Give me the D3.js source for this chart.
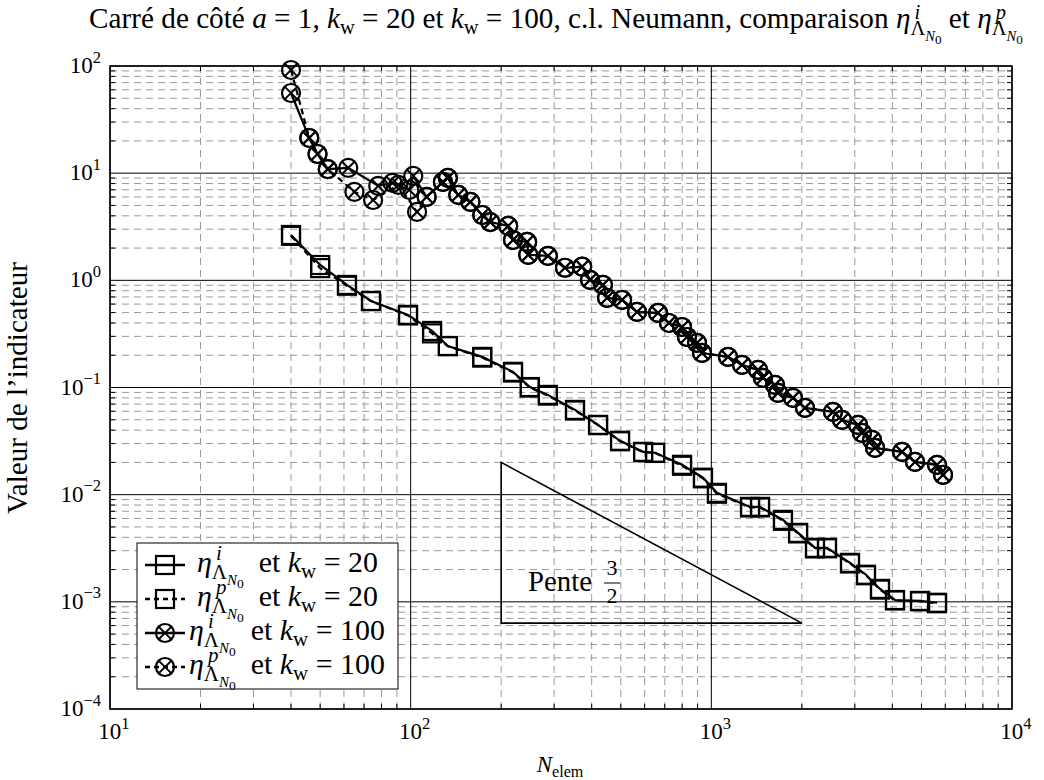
<!DOCTYPE html>
<html><head><meta charset="utf-8">
<script src="https://cdn.jsdelivr.net/npm/d3@7"></script>
<style>
body{margin:0;background:#fff}
svg{display:block}
</style>
</head><body><svg id="c" width="1044" height="780" font-family="Liberation Serif"></svg>
<script>
// ---- data ----
const nI20 = [40,50,61.4,73.8,98,117.8,133,173,219,249,286,352,420,497,593,650,799,938,1044,1345,1452,1731,1943,2212,2425,2892,3269,3639,4082,4944,5632];
const vI20 = [2.65,1.39,0.906,0.642,0.476,0.337,0.244,0.193,0.140,0.101,0.0853,0.0618,0.0448,0.0318,0.0251,0.0246,0.0190,0.0144,0.0104,0.00769,0.00769,0.00582,0.0044,0.00319,0.00319,0.00231,0.00179,0.00132,0.00104,0.00102,0.00098];
const nP20 = [40,50,61.4,73.8,98,117.8,133,173,219,249,286,352,420,497,593,650,799,938,1044,1345,1452,1731,1943,2212,2425,2892,3269,3639,4082,4944,5632];
const vP20 = [2.60,1.30,0.89,0.64,0.47,0.32,0.243,0.190,0.138,0.100,0.084,0.061,0.0445,0.0315,0.0249,0.0245,0.0186,0.0142,0.0102,0.0076,0.0076,0.0057,0.00435,0.00315,0.00316,0.00228,0.00177,0.00130,0.00103,0.00101,0.00097];
const nI100 = [40,46,49,53,62,78,87,99,102,113,128,133,144,158,173,184,211,219,244,246,286,326,372,395,436,450,505,566,665,723,799,830,896,931,1136,1265,1430,1485,1628,1666,1869,2049,2539,2720,3075,3170,3423,3503,4308,4758,5632,5897];
const vI100 = [56.0,21.3,15.1,10.9,11.2,7.60,8.10,6.97,9.42,6.0,8.28,9.02,6.26,5.39,4.07,3.50,3.22,2.38,2.28,1.73,1.69,1.31,1.34,1.01,0.906,0.685,0.657,0.507,0.496,0.400,0.367,0.296,0.261,0.210,0.193,0.1625,0.146,0.1229,0.1057,0.0891,0.080,0.0645,0.0592,0.0498,0.0448,0.0377,0.0324,0.0273,0.0251,0.0202,0.0190,0.0153];
const nP100 = [40,46,49,53,65,75,91,105,113,128,133,144,158,173,184,211,219,244,246,286,326,372,395,436,450,505,566,665,723,799,830,896,931,1136,1265,1430,1485,1628,1666,1869,2049,2539,2720,3075,3170,3423,3503,4308,4758,5632,5897];
const vP100 = [91.8,21.3,15.1,10.9,6.68,5.62,7.76,4.35,6.0,8.28,9.02,6.26,5.39,4.07,3.50,3.22,2.38,2.28,1.73,1.69,1.31,1.34,1.01,0.906,0.685,0.657,0.507,0.496,0.400,0.367,0.296,0.261,0.210,0.193,0.1625,0.146,0.1229,0.1057,0.0891,0.080,0.0645,0.0592,0.0498,0.0448,0.0377,0.0324,0.0273,0.0251,0.0202,0.0190,0.0153];
const xTickExps = [1,2,3,4];
const yTickExps = [-4,-3,-2,-1,0,1,2];
const slopeN = [200,2000];
const slopeTop = 0.02;
const slopeOrder = 1.5;

// ---- setup ----
const svg = d3.select('#c');
const L=110,R=1012,T=66,B=709;
const x = d3.scaleLog().domain([10,1e4]).range([L,R]);
const y = d3.scaleLog().domain([1e-4,1e2]).range([B,T]);

function build(txt, parts, fs){
  let cur=0, pendingDx=0;
  function add(p){
    const ts=txt.append('tspan').attr('font-size',fs*(p.s||1))
      .attr('font-style',p.it?'italic':'normal');
    const d=(p.dy||0)-cur; if(d) ts.attr('dy',d*fs/20); cur=(p.dy||0);
    if(pendingDx){ ts.attr('dx',pendingDx); pendingDx=0; }
    ts.text(p.t);
    return ts.node().getComputedTextLength();
  }
  for(const p of parts){
    if(p.stack){
      const ws=[];
      p.stack.forEach((s,k)=>{
        if(k>0) pendingDx = -ws[k-1];
        let w=0; s.forEach(q=>{w+=add(q);}); ws.push(w);
      });
      const last=ws[ws.length-1], mx=Math.max(...ws);
      if(mx>last) pendingDx=mx-last;
    } else add(p);
  }
}
function rich(g, xx, yy, parts, fs, anchor, rot, targetW){
  let t=g.append('text').attr('fill','#000').attr('font-family','Liberation Serif').attr('text-anchor',anchor||'start')
    .attr('transform',`translate(${xx},${yy})`+(rot?` rotate(${rot})`:''));
  build(t,parts,fs);
  if(targetW){
    const w=t.node().getBBox().width;
    t.selectAll('tspan').remove();
    build(t,parts,fs*targetW/w);
  }
  return t;
}
const eta = (sup,up) => [{t:'η',it:true},{stack:[[{t:'\u2009'+sup,it:true,s:0.7,dy:-(up||8)}],[{t:'Λ',s:0.7,dy:5},{t:'N',it:true,s:0.5,dy:9},{t:'0',s:0.45,dy:11}]]}];
const kw = [{t:'k',it:true},{t:'w',s:0.7,dy:4}];

// ---- grid ----
const grid=svg.append('g');
const minorX=[],minorY=[];
for(let d=1;d<4;d++) for(let m=2;m<10;m++) minorX.push(m*10**d);
for(let d=-4;d<2;d++) for(let m=2;m<10;m++) minorY.push(m*10**d);
grid.selectAll('.mx').data(minorX).join('line').attr('x1',d=>x(d)).attr('x2',d=>x(d)).attr('y1',T).attr('y2',B)
  .attr('stroke','#9a9a9a').attr('stroke-width',1).attr('stroke-dasharray','7,5');
grid.selectAll('.my').data(minorY).join('line').attr('y1',d=>y(d)).attr('y2',d=>y(d)).attr('x1',L).attr('x2',R)
  .attr('stroke','#9a9a9a').attr('stroke-width',1).attr('stroke-dasharray','7,5');
grid.selectAll('.Mx').data(xTickExps).join('line').attr('x1',d=>x(10**d)).attr('x2',d=>x(10**d)).attr('y1',T).attr('y2',B)
  .attr('stroke','#000').attr('stroke-width',1);
grid.selectAll('.My').data(yTickExps).join('line').attr('y1',d=>y(10**d)).attr('y2',d=>y(10**d)).attr('x1',L).attr('x2',R)
  .attr('stroke','#000').attr('stroke-width',1);

const tk=svg.append('g').attr('stroke','#000').attr('stroke-width',1);
minorX.forEach(d=>{tk.append('line').attr('x1',x(d)).attr('x2',x(d)).attr('y1',B).attr('y2',B-5);tk.append('line').attr('x1',x(d)).attr('x2',x(d)).attr('y1',T).attr('y2',T+5);});
minorY.forEach(d=>{tk.append('line').attr('y1',y(d)).attr('y2',y(d)).attr('x1',L).attr('x2',L+5);tk.append('line').attr('y1',y(d)).attr('y2',y(d)).attr('x1',R).attr('x2',R-5);});

// ---- series ----
const plot=svg.append('g');
const line=d3.line().x(d=>x(d[0])).y(d=>y(d[1]));
const zip=(a,b)=>a.map((v,i)=>[v,b[i]]);
const series=[
  {n:nI20,v:vI20,m:'sq',dash:null},
  {n:nP20,v:vP20,m:'sq',dash:'6,4'},
  {n:nI100,v:vI100,m:'ci',dash:null},
  {n:nP100,v:vP100,m:'ci',dash:'6,4'}
];
function marker(g,cx,cy,m){
  if(m==='sq'){
    g.append('rect').attr('x',cx-9).attr('y',cy-9).attr('width',18).attr('height',18)
      .attr('fill','none').attr('stroke','#000').attr('stroke-width',2.2);
  } else {
    g.append('circle').attr('cx',cx).attr('cy',cy).attr('r',9).attr('fill','none').attr('stroke','#000').attr('stroke-width',2.2);
    const r=6.4;
    g.append('line').attr('x1',cx-r).attr('y1',cy-r).attr('x2',cx+r).attr('y2',cy+r).attr('stroke','#000').attr('stroke-width',2);
    g.append('line').attr('x1',cx-r).attr('y1',cy+r).attr('x2',cx+r).attr('y2',cy-r).attr('stroke','#000').attr('stroke-width',2);
  }
}
series.forEach(s=>{
  const pts=zip(s.n,s.v);
  plot.append('path').attr('d',line(pts)).attr('fill','none').attr('stroke','#000').attr('stroke-width',2.2)
    .attr('stroke-dasharray',s.dash);
  const mg=plot.append('g');
  pts.forEach(p=>marker(mg,x(p[0]),y(p[1]),s.m));
});

// slope triangle
const yLow = slopeTop/10**slopeOrder;
svg.append('path').attr('d',`M${x(slopeN[0])},${y(slopeTop)}L${x(slopeN[0])},${y(yLow)}L${x(slopeN[1])},${y(yLow)}Z`)
  .attr('fill','none').attr('stroke','#000').attr('stroke-width',1.6);
rich(svg,528,591,[{t:'Pente'}],22,'start',0,64);
rich(svg,612,575,[{t:'3'}],22,'middle');
svg.append('line').attr('x1',604).attr('x2',620).attr('y1',583).attr('y2',583).attr('stroke','#000').attr('stroke-width',1);
rich(svg,612,603,[{t:'2'}],22,'middle');

// frame
svg.append('rect').attr('x',L).attr('y',T).attr('width',R-L).attr('height',B-T).attr('fill','none').attr('stroke','#000').attr('stroke-width',1.5);

// tick labels
yTickExps.forEach(e=>{
  rich(svg,101,y(10**e)+7,[{t:'10'},{t:(e<0?'−':'')+Math.abs(e),s:0.72,dy:-9}],23,'end');
});
xTickExps.forEach(e=>{
  rich(svg,x(10**e)+4,739,[{t:'10'},{t:String(e),s:0.72,dy:-9}],23,'middle');
});

// axis labels
rich(svg,560,772,[{t:'N',it:true},{t:'elem',s:0.7,dy:4}],23,'middle');
rich(svg,27,388,[{t:'Valeur de l’indicateur'}],21,'middle',-90,252);

// title
const titleParts=[{t:'Carré de côté '},{t:'a',it:true},{t:' = 1, '},...kw,{t:' = 20 et '},...kw,{t:' = 100, c.l. Neumann, comparaison '},...eta('i',6.5),{t:' et '},...eta('p',6.5)];
rich(svg,556,28,titleParts,20,'middle',0,935);

// legend
const lg=svg.append('g');
lg.append('rect').attr('x',137).attr('y',543).attr('width',261).attr('height',146).attr('fill','#fff').attr('stroke','#000').attr('stroke-width',1);
const legItems=[
  {m:'sq',dash:null,sup:'i',k:'20',y:565,tx:197,w:181},
  {m:'sq',dash:'5,4',sup:'p',k:'20',y:599,tx:197,w:181},
  {m:'ci',dash:null,sup:'i',k:'100',y:633,tx:189,w:196},
  {m:'ci',dash:'5,4',sup:'p',k:'100',y:667,tx:189,w:196}
];
legItems.forEach(it=>{
  lg.append('line').attr('x1',145).attr('x2',185).attr('y1',it.y).attr('y2',it.y).attr('stroke','#000').attr('stroke-width',2.5).attr('stroke-dasharray',it.dash);
  marker(lg,165,it.y,it.m);
  rich(lg,it.tx,it.y+7,[...eta(it.sup),{t:'\u2002et '},...kw,{t:' = '+it.k}],22,'start',0,it.w);
});
</script></body></html>
